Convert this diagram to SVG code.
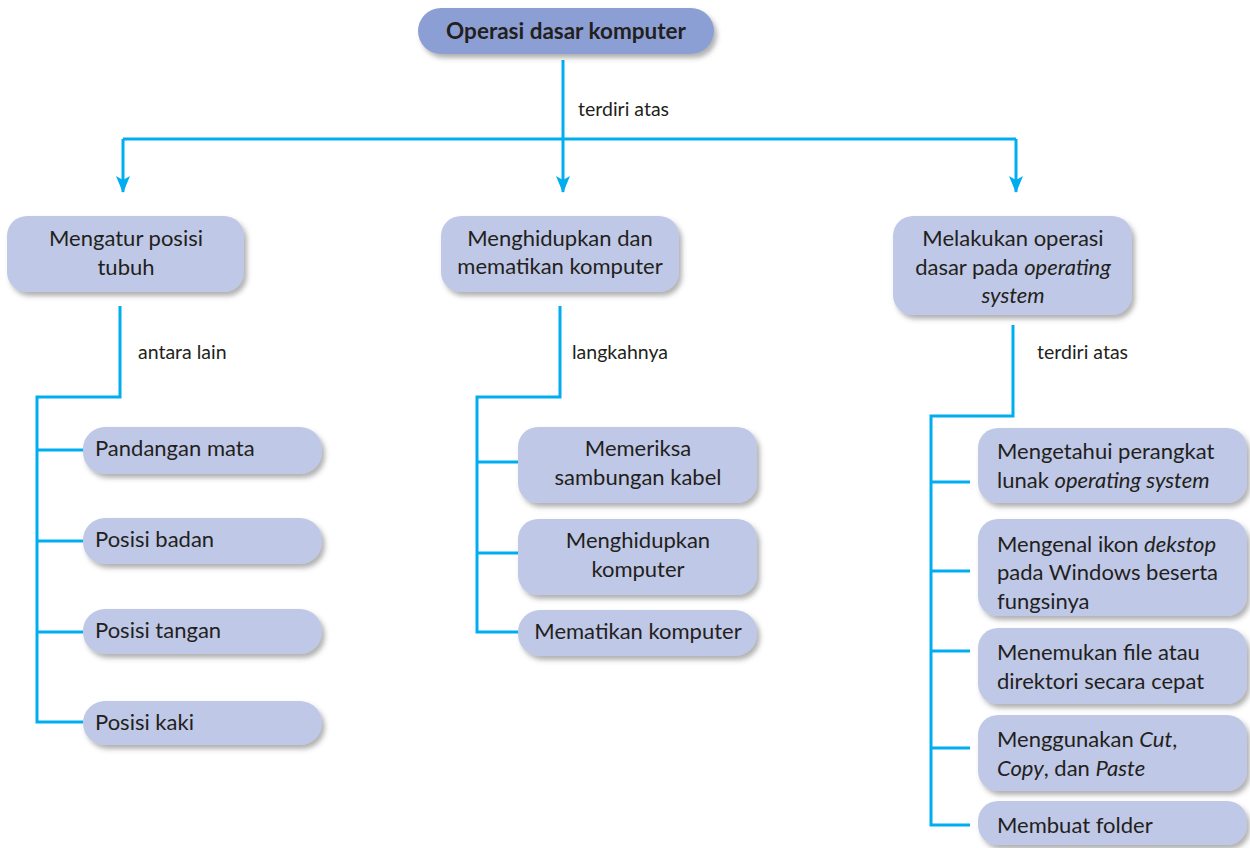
<svg xmlns="http://www.w3.org/2000/svg" width="1250" height="848" viewBox="0 0 1250 848">
<defs>
<filter id="sh" x="-10%" y="-20%" width="125%" height="150%">
<feDropShadow dx="3" dy="4" stdDeviation="2.5" flood-color="#555" flood-opacity="0.45"/>
</filter>
<marker id="arr" markerWidth="18" markerHeight="14" refX="16" refY="7" orient="auto" markerUnits="userSpaceOnUse" viewBox="0 0 18 14">
<path d="M0,0 L17,7 L0,14 L4,7 Z" fill="#00aeef"/>
</marker>
<style>
.box{fill:#bfc8e6;filter:url(#sh)}
.top{fill:#8c9fd4;filter:url(#sh)}
text{font-family:Lato,"Open Sans",sans-serif;font-size:22px;fill:#231f20}
.c{text-anchor:middle}
.lbl{font-size:19.5px}
.b{font-weight:bold;font-size:22.5px}
.line{stroke:#00aeef;stroke-width:3;fill:none}
</style>
</defs>
<g id="connectors">
<path class="line" d="M563,60 V192" marker-end="url(#arr)"/>
<path class="line" d="M123,139 H1016"/>
<path class="line" d="M123,139 V192" marker-end="url(#arr)"/>
<path class="line" d="M1016,139 V192" marker-end="url(#arr)"/>
<path class="line" d="M120,306 V397 H37 V722 H83 M37,450 H83 M37,541 H83 M37,632 H83"/>
<path class="line" d="M560,306 V397 H477 V632 H518 M477,462 H518 M477,553 H518"/>
<path class="line" d="M1013,325 V416 H931 V825 H970 M931,482 H970 M931,571 H970 M931,651 H970 M931,748 H970"/>
<text class="lbl" x="578" y="116">terdiri atas</text>
<text class="lbl" x="138" y="359">antara lain</text>
<text class="lbl" x="572" y="359">langkahnya</text>
<text class="lbl" x="1037" y="359">terdiri atas</text>
</g>
<g id="root">
<rect class="top" x="418" y="8" width="296" height="46" rx="23"/>
<text class="c b" x="566" y="39">Operasi dasar komputer</text>
</g>
<g id="n-posisi">
<rect class="box" x="7" y="216" width="237" height="76" rx="20"/>
<text class="c" x="126" y="246">Mengatur posisi</text>
<text class="c" x="126" y="275">tubuh</text>
</g>
<g id="n-hidup">
<rect class="box" x="441" y="216" width="238" height="76" rx="20"/>
<text class="c" x="560" y="246">Menghidupkan dan</text>
<text class="c" x="560" y="274">mematikan komputer</text>
</g>
<g id="n-os">
<rect class="box" x="893" y="216" width="239" height="99" rx="20"/>
<text class="c" x="1013" y="246">Melakukan operasi</text>
<text class="c" x="1013" y="275">dasar pada <tspan font-style="italic">operating</tspan></text>
<text class="c" x="1013" y="303" font-style="italic">system</text>
</g>
<g id="n-mata">
<rect class="box" x="83" y="427" width="239" height="47" rx="22"/>
<text x="95" y="456">Pandangan mata</text>
</g>
<g id="n-badan">
<rect class="box" x="83" y="518" width="239" height="46" rx="22"/>
<text x="95" y="547">Posisi badan</text>
</g>
<g id="n-tangan">
<rect class="box" x="83" y="609" width="239" height="45" rx="22"/>
<text x="95" y="638">Posisi tangan</text>
</g>
<g id="n-kaki">
<rect class="box" x="83" y="701" width="239" height="44" rx="22"/>
<text x="95" y="730">Posisi kaki</text>
</g>
<g id="n-kabel">
<rect class="box" x="518" y="427" width="239" height="76" rx="20"/>
<text class="c" x="638" y="456">Memeriksa</text>
<text class="c" x="638" y="485">sambungan kabel</text>
</g>
<g id="n-nyala">
<rect class="box" x="518" y="519" width="239" height="76" rx="20"/>
<text class="c" x="638" y="548">Menghidupkan</text>
<text class="c" x="638" y="577">komputer</text>
</g>
<g id="n-mati">
<rect class="box" x="518" y="610" width="239" height="46" rx="22"/>
<text class="c" x="638" y="639">Mematikan komputer</text>
</g>
<g id="n-perangkat">
<rect class="box" x="978" y="428" width="269" height="75" rx="20"/>
<text x="997" y="459">Mengetahui perangkat</text>
<text x="997" y="488">lunak <tspan font-style="italic">operating system</tspan></text>
</g>
<g id="n-ikon">
<rect class="box" x="978" y="519" width="269" height="97" rx="20"/>
<text x="997" y="552">Mengenal ikon <tspan font-style="italic">dekstop</tspan></text>
<text x="997" y="580">pada Windows beserta</text>
<text x="997" y="609">fungsinya</text>
</g>
<g id="n-file">
<rect class="box" x="978" y="628" width="269" height="76" rx="20"/>
<text x="997" y="660">Menemukan file atau</text>
<text x="997" y="689">direktori secara cepat</text>
</g>
<g id="n-cut">
<rect class="box" x="978" y="715" width="269" height="76" rx="20"/>
<text x="997" y="747">Menggunakan <tspan font-style="italic">Cut</tspan>,</text>
<text x="997" y="776"><tspan font-style="italic">Copy</tspan>, dan <tspan font-style="italic">Paste</tspan></text>
</g>
<g id="n-folder">
<rect class="box" x="978" y="801" width="269" height="44" rx="20"/>
<text x="997" y="833">Membuat folder</text>
</g>
</svg>
